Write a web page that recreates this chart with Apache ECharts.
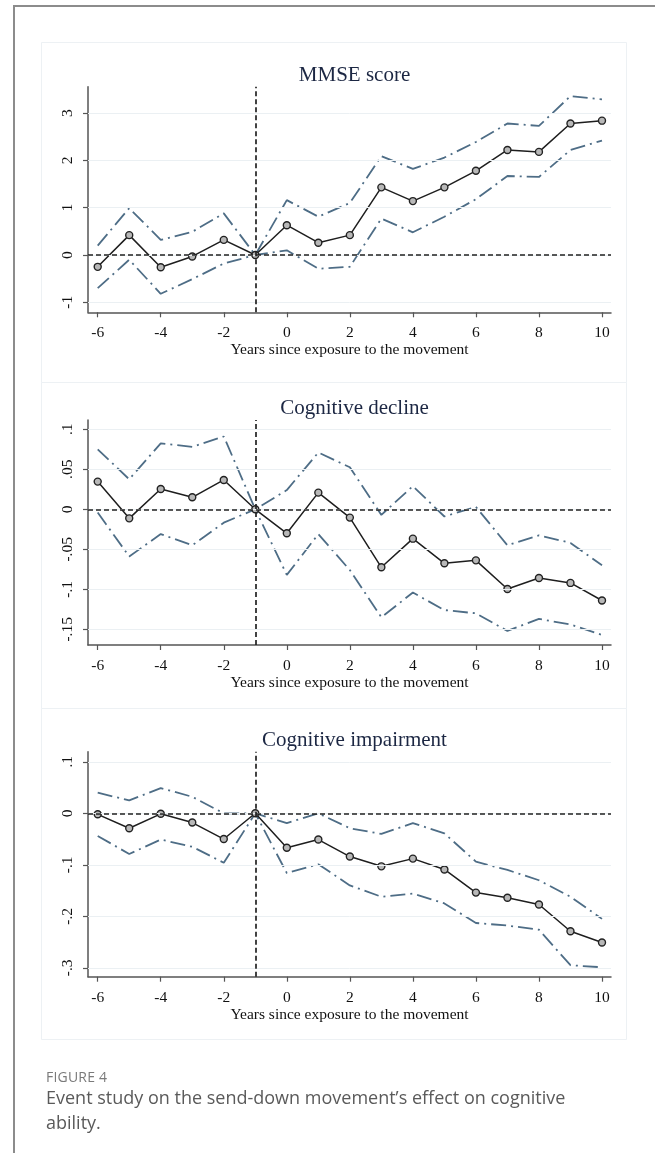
<!DOCTYPE html>
<html>
<head>
<meta charset="utf-8">
<script src="https://cdn.jsdelivr.net/npm/echarts@6/dist/echarts.min.js"></script>
<style>
  html, body { margin: 0; padding: 0; background: #fff; }
  #wrap { position: relative; width: 655px; height: 1153px; overflow: hidden; }
  #card { position: absolute; left: 13px; top: 5px; width: 660px; height: 1160px;
          border-left: 2px solid #8c8c8c; border-top: 2px solid #8c8c8c; }
  #chart { position: absolute; left: 0; top: 0; width: 655px; height: 1153px; }
  #figlabel { position: absolute; left: 46px; top: 1067px; font-family: 'Open Sans', 'Noto Sans', sans-serif;
              font-size: 14px; color: #7a7a7a; letter-spacing: 0.2px; }
  #caption { position: absolute; left: 46px; top: 1085px; width: 560px; font-family: 'Open Sans', 'Noto Sans', sans-serif;
             font-size: 18px; line-height: 25px; color: #5a5a5a; }
</style>
</head>
<body>
<div id="wrap">
  <div id="card"></div>
  <div id="chart"></div>
  <div id="figlabel">FIGURE 4</div>
  <div id="caption">Event study on the send-down movement’s effect on cognitive ability.</div>
</div>
<script>
// ---- data ----
const years = [-6, -5, -4, -3, -2, -1, 0, 1, 2, 3, 4, 5, 6, 7, 8, 9, 10];
const xTicks = [-6, -4, -2, 0, 2, 4, 6, 8, 10];
const xAxisTitle = 'Years since exposure to the movement';

const panelTitles = ['MMSE score', 'Cognitive decline', 'Cognitive impairment'];

const mmseEst   = [-0.25, 0.42, -0.26, -0.03, 0.32, 0, 0.63, 0.26, 0.42, 1.43, 1.14, 1.43, 1.78, 2.22, 2.18, 2.78, 2.84];
const mmseUpper = [0.20, 0.99, 0.32, 0.49, 0.88, 0, 1.16, 0.81, 1.10, 2.09, 1.82, 2.06, 2.39, 2.78, 2.73, 3.36, 3.29];
const mmseLower = [-0.70, -0.10, -0.82, -0.51, -0.18, 0, 0.10, -0.29, -0.25, 0.77, 0.48, 0.81, 1.18, 1.67, 1.65, 2.22, 2.42];
const mmseTicks = [-1, 0, 1, 2, 3];
const mmseTickLabels = ['-1', '0', '1', '2', '3'];

const declineEst   = [0.0346, -0.0113, 0.0254, 0.015, 0.0367, 0, -0.030, 0.0208, -0.0104, -0.0725, -0.0367, -0.0675, -0.0638, -0.0996, -0.0858, -0.092, -0.114];
const declineUpper = [0.075, 0.0375, 0.0825, 0.078, 0.091, 0, 0.024, 0.071, 0.0525, -0.007, 0.029, -0.009, 0.003, -0.045, -0.0325, -0.042, -0.070];
const declineLower = [-0.004, -0.059, -0.031, -0.045, -0.0167, 0, -0.082, -0.031, -0.076, -0.135, -0.104, -0.126, -0.130, -0.152, -0.137, -0.144, -0.157];
const declineTicks = [-0.15, -0.1, -0.05, 0, 0.05, 0.1];
const declineTickLabels = ['-.15', '-.1', '-.05', '0', '.05', '.1'];

const impairEst   = [-0.002, -0.029, -0.001, -0.018, -0.050, 0, -0.067, -0.051, -0.084, -0.103, -0.088, -0.109, -0.154, -0.164, -0.177, -0.229, -0.251];
const impairUpper = [0.040, 0.025, 0.049, 0.032, 0.000, 0, -0.019, 0.000, -0.029, -0.040, -0.019, -0.039, -0.094, -0.110, -0.130, -0.162, -0.205];
const impairLower = [-0.044, -0.079, -0.051, -0.065, -0.096, 0, -0.116, -0.099, -0.140, -0.162, -0.156, -0.175, -0.213, -0.218, -0.226, -0.295, -0.299];
const impairTicks = [-0.3, -0.2, -0.1, 0, 0.1];
const impairTickLabels = ['-.3', '-.2', '-.1', '0', '.1'];

const eventYear = -1;

// ---- build ----
const SERIF = "'Liberation Serif', 'Times New Roman', serif";
const panels = [
  { est: mmseEst, up: mmseUpper, lo: mmseLower, ticks: mmseTicks, labels: mmseTickLabels,
    top: 86.7, height: 225.6, min: -1.211, max: 3.558, box: [42, 382] },
  { est: declineEst, up: declineUpper, lo: declineLower, ticks: declineTicks, labels: declineTickLabels,
    top: 420, height: 225, min: -0.1696, max: 0.1116, box: [382, 708] },
  { est: impairEst, up: impairUpper, lo: impairLower, ticks: impairTicks, labels: impairTickLabels,
    top: 751.7, height: 225, min: -0.3173, max: 0.1196, box: [708, 1039] }
];
const gridLeft = 88, gridWidth = 523;
const pairs = arr => years.map((y, i) => [y, arr[i]]);

const grid = [], xAxis = [], yAxis = [], series = [], title = [], graphic = [];
panels.forEach((p, k) => {
  graphic.push({ type: 'rect', shape: { x: 41.5, y: p.box[0] + 0.5, width: 585, height: p.box[1] - p.box[0] },
    style: { fill: '#fff', stroke: '#edf1f4', lineWidth: 1 }, z: -10 });
  grid.push({ left: gridLeft, top: p.top, width: gridWidth, height: p.height });
  title.push({ text: panelTitles[k], left: gridLeft + gridWidth / 2, top: p.top - 27, textAlign: 'center',
    textStyle: { fontFamily: SERIF, fontSize: 21, fontWeight: 'normal', color: '#1c2743' } });
  xAxis.push({ type: 'value', gridIndex: k, min: -6.308, max: 10.286,
    name: xAxisTitle, nameLocation: 'middle', nameGap: 29,
    nameTextStyle: { fontFamily: SERIF, fontSize: 15.5, color: '#111' },
    axisLine: { onZero: false, lineStyle: { color: '#555', width: 1.5 } },
    axisTick: { show: true, length: 5, customValues: xTicks, lineStyle: { color: '#555', width: 1.2 } },
    axisLabel: { customValues: xTicks, margin: 13, fontFamily: SERIF, fontSize: 15.5, color: '#111' },
    splitLine: { show: false } });
  yAxis.push({ type: 'value', gridIndex: k, min: p.min, max: p.max,
    axisLine: { show: true, onZero: false, lineStyle: { color: '#555', width: 1.5 } },
    axisTick: { show: true, length: 5, customValues: p.ticks, lineStyle: { color: '#555', width: 1.2 } },
    axisLabel: { customValues: p.ticks, rotate: 90, margin: 12, fontFamily: SERIF, fontSize: 15.5, color: '#111',
      formatter: v => { const i = p.ticks.findIndex(t => Math.abs(t - v) < 1e-9); return i >= 0 ? p.labels[i] : ''; } },
    splitLine: { show: false } });
  // grid lines + reference lines
  const ml = p.ticks.map(t => ({ yAxis: t, lineStyle: { color: '#ebf0f3', width: 1, type: 'solid' } }));
  ml.push({ yAxis: 0, lineStyle: { color: '#222', width: 1.7, type: [5, 3] } });
  ml.push({ xAxis: eventYear, lineStyle: { color: '#222', width: 1.7, type: [5, 3] } });
  series.push({ type: 'line', xAxisIndex: k, yAxisIndex: k, data: [], silent: true, z: 1,
    markLine: { silent: true, symbol: 'none', label: { show: false }, animation: false, data: ml } });
  const ciStyle = { color: '#4e6d86', width: 1.8, type: [15, 5, 2, 5] };
  series.push({ type: 'line', xAxisIndex: k, yAxisIndex: k, data: pairs(p.up), showSymbol: false, symbol: 'none',
    lineStyle: ciStyle, z: 2, animation: false });
  series.push({ type: 'line', xAxisIndex: k, yAxisIndex: k, data: pairs(p.lo), showSymbol: false, symbol: 'none',
    lineStyle: ciStyle, z: 2, animation: false });
  series.push({ type: 'line', xAxisIndex: k, yAxisIndex: k, data: pairs(p.est), symbol: 'circle', symbolSize: 7,
    lineStyle: { color: '#1e1e1e', width: 1.5 },
    itemStyle: { color: '#b8b8b8', borderColor: '#222', borderWidth: 1.4 }, z: 3, animation: false });
});

const chart = echarts.init(document.getElementById('chart'), null, { renderer: 'canvas' });
chart.setOption({ animation: false, backgroundColor: 'transparent', grid, xAxis, yAxis, series, title, graphic });
</script>
</body>
</html>
